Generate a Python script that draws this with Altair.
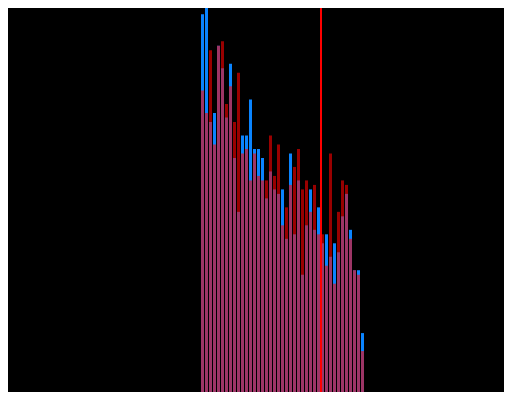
import altair as alt
import pandas as pd

bins = list(range(41))
blue_counts = [88, 93, 64, 66, 81, 76, 65, 77, 56, 44,
               61, 61, 69, 58, 58, 56, 47, 53, 49, 48,
               49, 38, 57, 39, 51, 30, 41, 49, 40, 45,
               37, 39, 34, 37, 35, 43, 48, 40, 31, 31, 17]
red_counts = [71, 66, 80, 59, 81, 82, 68, 72, 64, 75,
              57, 58, 51, 57, 52, 51, 51, 61, 52, 59,
              41, 45, 50, 54, 58, 49, 51, 44, 50, 39,
              39, 32, 57, 28, 44, 51, 50, 38, 31, 30, 13]
marker_value = [30]

df = pd.DataFrame({
    "bin": bins,
    "bin_end": [b + 0.75 for b in bins],
    "blue": blue_counts,
    "red": red_counts,
})

xscale = alt.Scale(domain=[-48.25, 75.75], nice=False, zero=False)
yscale = alt.Scale(domain=[3.88, 89.40], nice=False, zero=False)

base = alt.Chart(df)
blue = base.mark_bar(color="#0a84ff", opacity=1, clip=True).encode(
    x=alt.X("bin:Q", scale=xscale, axis=None),
    x2="bin_end:Q",
    y=alt.Y("blue:Q", scale=yscale, axis=None),
    y2=alt.datum(0),
)
red = base.mark_bar(color="#ff0000", opacity=0.6, clip=True).encode(
    x=alt.X("bin:Q", scale=xscale, axis=None),
    x2="bin_end:Q",
    y=alt.Y("red:Q", scale=yscale, axis=None),
    y2=alt.datum(0),
)
line = alt.Chart(pd.DataFrame({"v": marker_value})).mark_rule(color="#ff0000", strokeWidth=2).encode(
    x=alt.X("v:Q", scale=xscale, axis=None),
)

chart = alt.layer(blue, red, line).properties(
    width=496, height=384, background="#000000", padding=0,
    autosize=alt.AutoSizeParams(type="none"),
).configure_view(strokeWidth=0, fill="#000000")

chart.save("out.html", embed_options={"renderer": "svg", "actions": False})
